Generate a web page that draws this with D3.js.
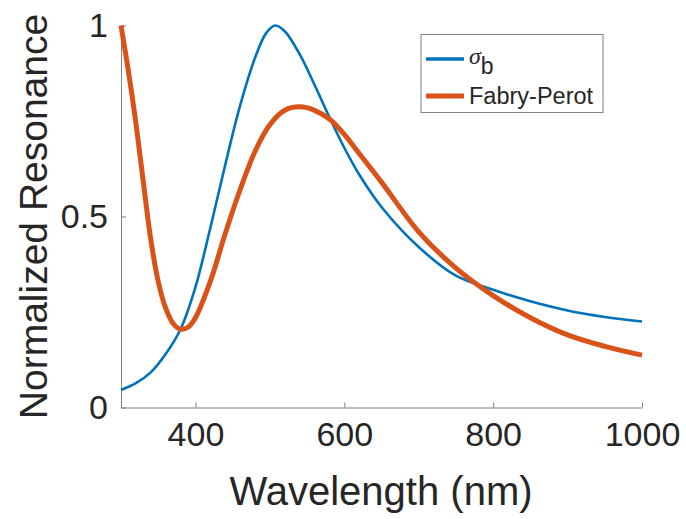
<!DOCTYPE html>
<html>
<head>
<meta charset="utf-8">
<script src="https://cdn.jsdelivr.net/npm/d3@7"></script>
<style>
  html, body { margin: 0; padding: 0; background: #fff; }
  svg { display: block; font-family: "Liberation Sans", Arial, Helvetica, sans-serif; }
</style>
</head>
<body>
<svg id="chart" width="686" height="519"></svg>
<script>
// ---- data ----
const sigmaWavelength = [300, 320, 340, 360, 380, 400, 420, 440, 460, 480, 495, 507, 520, 540, 560, 580, 600, 620, 650, 700, 750, 800, 850, 900, 950, 1000];
const sigmaValues     = [0.046, 0.064, 0.092, 0.14, 0.205, 0.315, 0.47, 0.635, 0.79, 0.915, 0.98, 1.0, 0.985, 0.925, 0.845, 0.76, 0.68, 0.61, 0.525, 0.42, 0.345, 0.308, 0.278, 0.254, 0.237, 0.225];

const fpWavelength = [300, 310, 320, 330, 340, 350, 360, 370, 380, 390, 400, 420, 440, 460, 480, 500, 520, 540, 560, 580, 600, 620, 650, 700, 750, 800, 850, 900, 950, 1000];
const fpValues     = [1.0, 0.88, 0.745, 0.59, 0.44, 0.33, 0.26, 0.22, 0.205, 0.21, 0.235, 0.33, 0.455, 0.57, 0.67, 0.74, 0.778, 0.787, 0.778, 0.755, 0.715, 0.665, 0.59, 0.46, 0.365, 0.293, 0.235, 0.19, 0.16, 0.137];

const xTicks = [400, 600, 800, 1000];
const yTicks = [0, 0.5, 1];
const yTickLabels = ["0", "0.5", "1"];
const seriesNames = ["σ", "Fabry-Perot"];
const seriesColors = ["#0072BD", "#D95319"];
const xLabel = "Wavelength (nm)";
const yLabel = "Normalized Resonance";

// ---- layout ----
const svg = d3.select("#chart");
const mLeft = 121, mRight = 642, mTop = 25.5, mBottom = 407.5;
const x = d3.scaleLinear().domain([300, 1000]).range([mLeft, mRight]);
const y = d3.scaleLinear().domain([0, 1]).range([mBottom, mTop]);
const axisColor = "#808080";
const textColor = "#262626";

// axes
const xAxis = svg.append("g").attr("transform", `translate(0,${mBottom})`)
  .call(d3.axisBottom(x).tickValues(xTicks).tickFormat(d3.format("d")).tickSizeInner(-5).tickSizeOuter(0).tickPadding(14));
xAxis.select(".domain").attr("stroke", axisColor);
xAxis.selectAll(".tick line").attr("stroke", axisColor);
xAxis.selectAll(".tick text").attr("fill", textColor).attr("font-size", 34).attr("font-family", null);

const yAxis = svg.append("g").attr("transform", `translate(${mLeft},0)`)
  .call(d3.axisLeft(y).tickValues(yTicks).tickFormat((d, i) => yTickLabels[i]).tickSizeInner(-5).tickSizeOuter(0).tickPadding(13));
yAxis.select(".domain").attr("stroke", axisColor);
yAxis.selectAll(".tick line").attr("stroke", axisColor);
yAxis.selectAll(".tick text").attr("fill", textColor).attr("font-size", 34).attr("font-family", null);

// lines
const line = d3.line().x(d => x(d[0])).y(d => y(d[1])).curve(d3.curveCatmullRom.alpha(0.5));
svg.append("path")
  .datum(d3.zip(sigmaWavelength, sigmaValues))
  .attr("fill", "none").attr("stroke", seriesColors[0]).attr("stroke-width", 2.6)
  .attr("d", line);
svg.append("path")
  .datum(d3.zip(fpWavelength, fpValues))
  .attr("fill", "none").attr("stroke", seriesColors[1]).attr("stroke-width", 5)
  .attr("d", line);

// axis labels
svg.append("text").attr("x", 381).attr("y", 505)
  .attr("text-anchor", "middle").attr("font-size", 40).attr("fill", textColor).text(xLabel);
svg.append("text").attr("transform", `translate(47,${(mTop + mBottom) / 2}) rotate(-90)`)
  .attr("text-anchor", "middle").attr("font-size", 39).attr("fill", textColor).text(yLabel);

// legend
const lg = svg.append("g");
lg.append("rect").attr("x", 421).attr("y", 34.5).attr("width", 182).attr("height", 78)
  .attr("fill", "#fff").attr("stroke", axisColor).attr("stroke-width", 1);
lg.append("line").attr("x1", 426).attr("x2", 464).attr("y1", 59).attr("y2", 59)
  .attr("stroke", seriesColors[0]).attr("stroke-width", 3.5);
lg.append("line").attr("x1", 426).attr("x2", 464).attr("y1", 96).attr("y2", 96)
  .attr("stroke", seriesColors[1]).attr("stroke-width", 5);
const t1 = lg.append("text").attr("x", 469).attr("y", 64).attr("font-size", 24).attr("fill", textColor);
t1.append("tspan").attr("font-style", "italic").attr("font-family", "'Liberation Serif', 'Times New Roman', serif").text(seriesNames[0]);
t1.append("tspan").attr("dy", 10).attr("font-size", 23).text("b");
lg.append("text").attr("x", 469).attr("y", 104).attr("font-size", 23.5).attr("fill", textColor).text(seriesNames[1]);
</script>
</body>
</html>
